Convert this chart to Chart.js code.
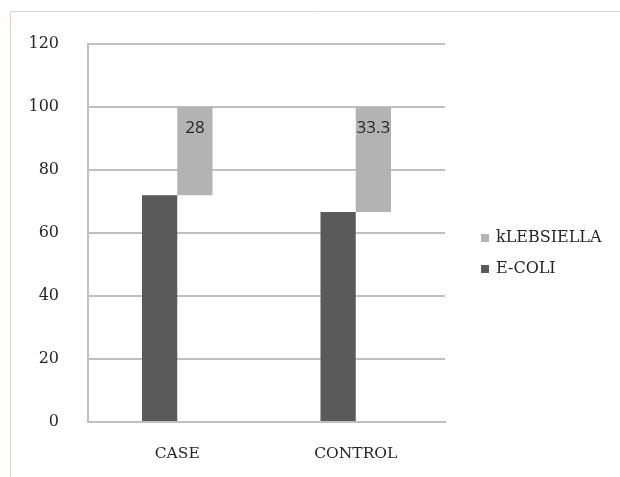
<!DOCTYPE html>
<html>
<head>
<meta charset="utf-8">
<script src="https://cdn.jsdelivr.net/npm/chart.js@4.4.1/dist/chart.umd.min.js"></script>
<style>
  html, body { margin: 0; padding: 0; background: #ffffff; }
  #wrap { width: 620px; height: 477px; position: relative; }
</style>
</head>
<body>
<div id="wrap"><canvas id="c" width="620" height="477"></canvas></div>
<script>
// Groups and organism shares (%)
const categories = ['CASE', 'CONTROL'];
const ecoli = [72, 66.7];
const klebsiella = [28, 33.3];
const yTicks = [0, 20, 40, 60, 80, 100, 120];

const DARK = '#5a5a5a';
const LIGHT = '#b3b3b3';
const GRID = '#c0c0c0';
const TEXT = '#262626';
const SERIF = '"DejaVu Serif", "Liberation Serif", serif';

// Klebsiella sits on top of the E. coli share, drawn as a floating bar
const klebFloat = klebsiella.map((v, i) => [ecoli[i], ecoli[i] + v]);

const framePlugin = {
  id: 'frame',
  beforeDraw(chart) {
    const ctx = chart.ctx;
    ctx.save();
    ctx.strokeStyle = '#e6cfcb';
    ctx.lineWidth = 1;
    ctx.beginPath();
    ctx.moveTo(10.5, 477);
    ctx.lineTo(10.5, 11.5);
    ctx.lineTo(620, 11.5);
    ctx.stroke();
    ctx.restore();
  }
};

const valueLabels = {
  id: 'valueLabels',
  afterDatasetsDraw(chart) {
    const ctx = chart.ctx;
    const meta = chart.getDatasetMeta(1);
    ctx.save();
    ctx.fillStyle = '#262626';
    ctx.font = '17px "Open Sans", "Liberation Sans", sans-serif';
    ctx.textAlign = 'center';
    ctx.textBaseline = 'middle';
    meta.data.forEach((bar, i) => {
      ctx.fillText(String(klebsiella[i]), bar.x, bar.y + 21);
    });
    ctx.restore();
  }
};

const sideLegend = {
  id: 'sideLegend',
  afterDraw(chart) {
    const ctx = chart.ctx;
    const order = [1, 0];
    ctx.save();
    ctx.font = '16px ' + SERIF;
    ctx.textBaseline = 'middle';
    ctx.textAlign = 'left';
    order.forEach((di, k) => {
      const ds = chart.data.datasets[di];
      const y = 238 + k * 31;
      ctx.fillStyle = ds.backgroundColor;
      ctx.fillRect(481, y - 4, 8, 8);
      ctx.fillStyle = TEXT;
      ctx.fillText(ds.label, 496, y);
    });
    ctx.restore();
  }
};

new Chart(document.getElementById('c'), {
  type: 'bar',
  data: {
    labels: categories,
    datasets: [
      { label: 'E-COLI', data: ecoli, backgroundColor: DARK,
        categoryPercentage: 0.395, barPercentage: 1 },
      { label: 'kLEBSIELLA', data: klebFloat, backgroundColor: LIGHT,
        categoryPercentage: 0.395, barPercentage: 1 }
    ]
  },
  options: {
    responsive: false,
    animation: false,
    layout: { padding: { left: 0, top: 44, right: 175, bottom: 0 } },
    plugins: { legend: { display: false }, tooltip: { enabled: false } },
    scales: {
      x: {
        grid: { display: false },
        border: { display: true, color: GRID, width: 2 },
        ticks: { color: TEXT, font: { family: SERIF, size: 15.5 }, padding: 15 },
        afterFit(s) { s.height = 55; }
      },
      y: {
        min: 0, max: 120,
        afterBuildTicks(s) { s.ticks = yTicks.map(v => ({ value: v })); },
        grid: { color: GRID, lineWidth: 2, drawTicks: false },
        border: { display: true, color: GRID, width: 2 },
        ticks: { color: TEXT, font: { family: SERIF, size: 16 }, padding: 29 },
        afterFit(s) { s.width = 88; }
      }
    }
  },
  plugins: [framePlugin, valueLabels, sideLegend]
});
</script>
</body>
</html>
